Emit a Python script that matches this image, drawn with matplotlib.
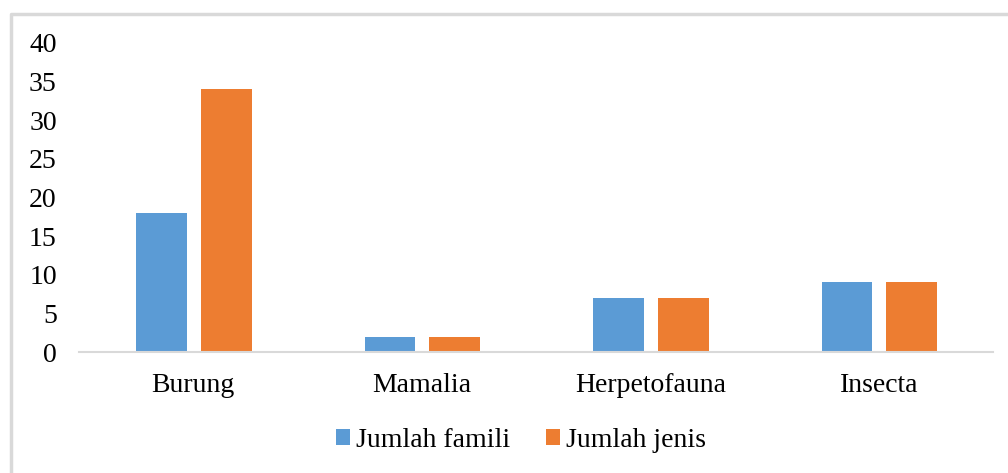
import numpy as np
import matplotlib.pyplot as plt
from matplotlib.lines import Line2D

categories = ["Burung", "Mamalia", "Herpetofauna", "Insecta"]
famili = [18, 2, 7, 9]
jenis = [34, 2, 7, 9]
series_names = ["Jumlah famili", "Jumlah jenis"]
y_ticks = [0, 5, 10, 15, 20, 25, 30, 35, 40]

plt.rcParams['font.family'] = ['Liberation Serif', 'DejaVu Serif']

fig = plt.figure(figsize=(10.08, 4.73), dpi=100)
ax = fig.add_axes([79/1008, 121/473, 914/1008, 309/473])

# light grey frame of the chart box (only left and top edges are in view)
fx = 10.5/1008
fy = 1 - 14/473
fig.lines.append(Line2D([fx, fx, 1.0], [0.0, fy, fy], transform=fig.transFigure,
                        color='#d9d9d9', linewidth=2.5))

x = np.arange(len(categories))
w = 0.222
ax.bar(x - 0.139, famili, w, color='#5B9BD5', label=series_names[0])
ax.bar(x + 0.144, jenis, w, color='#ED7D31', label=series_names[1])

ax.set_xlim(-0.5, 3.5)
ax.set_ylim(0, 40)
ax.set_yticks(y_ticks)
ax.set_xticks(x)
ax.set_xticklabels(categories)
ax.tick_params(axis='both', length=0, labelsize=20, colors='black')
ax.tick_params(axis='y', pad=16)
ax.tick_params(axis='x', pad=15)

for s in ['top', 'right', 'left']:
    ax.spines[s].set_visible(False)
ax.spines['bottom'].set_color('#d9d9d9')
ax.spines['bottom'].set_linewidth(1.5)

fig.legend(loc='center', bbox_to_anchor=(521/1008, 1 - 440/473), ncol=2,
           frameon=False, fontsize=20, handlelength=0.5, handleheight=0.5,
           handletextpad=0.2, columnspacing=1.3)

fig.savefig("out.png", dpi=100)
